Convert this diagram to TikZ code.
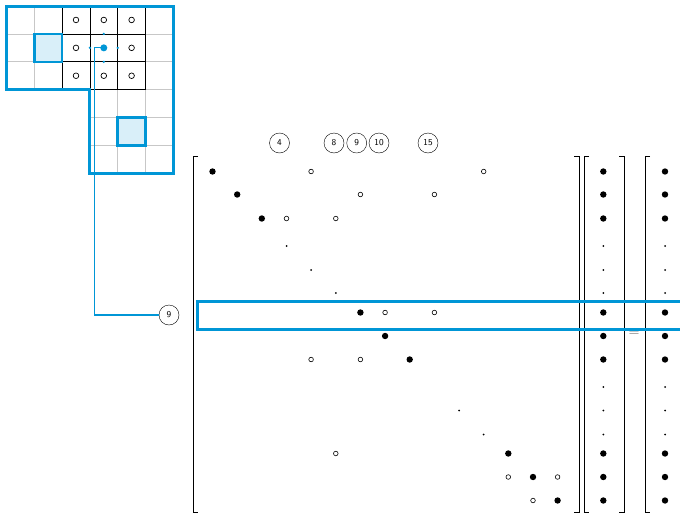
\documentclass[tikz,border=0pt]{standalone}
\usepackage[dvipsnames]{xcolor}
\definecolor{myblue}{RGB}{0,150,214}
\colorlet{mylightblue}{myblue!15}
\colorlet{mygray}{black!22}
\usepackage{tikz}
\tikzset{
  numlabel/.style={draw, circle, minimum size=20pt, inner sep=0pt, font=\sffamily\small},
  bracket/.style={line width=1pt},
}

\begin{document}
\begin{tikzpicture}[x=1pt, y=-1pt]
        \clip (0,0) rectangle (680,514);
        \useasboundingbox (0,0) rectangle (680,514);

        % the stencil grid
        \begin{scope}[shift={(6.5,6)}, x=27.8pt, y=-27.9pt]
        \fill[mylightblue] (1,1) rectangle (2,2) (4,4) rectangle (5,5);
        \draw[mygray, line width=0.8pt] (0,1) -- (6,1) (0,2) -- (6,2) (3,3) -- (6,3) (3,4) -- (6,4) (3,5) -- (6,5);
        \draw[mygray, line width=0.8pt] (1,0) -- (1,3) (2,0) -- (2,3) (3,0) -- (3,6) (4,0) -- (4,6) (5,0) -- (5,6);
        \draw[line width=0.8pt] (2,0) -- (2,3) (3,0) -- (3,3) (4,0) -- (4,3) (5,0) -- (5,3) (2,1) -- (5,1) (2,2) -- (5,2) (2,3) -- (5,3);
        \draw[myblue, line width=2.5pt] (1,1) rectangle (2,2) (4,4) rectangle (5,5);
        \draw[myblue, line width=3pt] (0,0) -- (6,0) -- (6,6) -- (3,6) -- (3,3) -- (0,3) -- cycle;
        \draw[line width=0.7pt] (2.5,0.5) circle [radius=2.8pt] (3.5,0.5) circle [radius=2.8pt] (4.5,0.5) circle [radius=2.8pt]
          (2.5,1.5) circle [radius=2.8pt] (4.5,1.5) circle [radius=2.8pt]
          (2.5,2.5) circle [radius=2.8pt] (3.5,2.5) circle [radius=2.8pt] (4.5,2.5) circle [radius=2.8pt];
        \coordinate (ctr) at (3.5,1.5);
        \fill[myblue] (ctr) circle [radius=3.5pt];
        \fill[myblue] (3.5,1) circle [radius=1.3pt] (3,1.5) circle [radius=1.3pt] (4,1.5) circle [radius=1.3pt] (3.5,2) circle [radius=1.3pt];
        \end{scope}

        \node[numlabel] (lab) at (169,315) {9};
        \draw[myblue, line width=1.2pt] (ctr) -- ++(-9.5,0) |- (lab);

        % column labels
        \node[numlabel] (h4) at (279.5,143) {4};
        \node[numlabel] (h8) at (334,143) {8};
        \node[numlabel] (h9) at (356.7,143) {9};
        \node[numlabel] (h10) at (379,143) {10};
        \node[numlabel] (h15) at (428,143) {15};

        % brackets
        \draw[bracket] (198,156) -- (193,156) -- (193,512) -- (198,512);
        \draw[bracket] (574,156) -- (579,156) -- (579,512) -- (574,512);
        \draw[bracket] (589,156) -- (584,156) -- (584,512) -- (589,512);
        \draw[bracket] (619,156) -- (624,156) -- (624,512) -- (619,512);
        \draw[bracket] (650,156) -- (645,156) -- (645,512) -- (650,512);
        \node[font=\Large, text=black!65] (eq) at (634,334) {=};

        % matrix entries
        \fill (212.5,171.5) circle [radius=3.2pt] (237.2,194.5) circle [radius=3.2pt] (261.8,218.5) circle [radius=3.2pt]
          (360.4,312.5) circle [radius=3.2pt] (385.1,336) circle [radius=3.2pt] (409.7,359.5) circle [radius=3.2pt]
          (508.3,453.5) circle [radius=3.2pt] (533.0,477) circle [radius=3.2pt] (557.6,500.5) circle [radius=3.2pt];
        \draw[line width=0.6pt] (311.1,171.5) circle [radius=2.3pt] (483.7,171.5) circle [radius=2.3pt]
          (360.4,194.5) circle [radius=2.3pt] (434.4,194.5) circle [radius=2.3pt]
          (286.5,218.5) circle [radius=2.3pt] (335.8,218.5) circle [radius=2.3pt]
          (385.1,312.5) circle [radius=2.3pt] (434.4,312.5) circle [radius=2.3pt]
          (311.1,359.5) circle [radius=2.3pt] (360.4,359.5) circle [radius=2.3pt]
          (335.8,453.5) circle [radius=2.3pt]
          (508.3,477) circle [radius=2.3pt] (557.6,477) circle [radius=2.3pt]
          (533.0,500.5) circle [radius=2.3pt];
        \fill (286.5,246) circle [radius=1pt] (311.1,270) circle [radius=1pt] (335.8,293) circle [radius=1pt]
          (459.0,410.5) circle [radius=1pt] (483.7,434.5) circle [radius=1pt];

        % vector entries
        \fill (603.3,171.5) circle [radius=3.2pt] (603.3,194.5) circle [radius=3.2pt] (603.3,218.5) circle [radius=3.2pt]
          (603.3,312.5) circle [radius=3.2pt] (603.3,336) circle [radius=3.2pt] (603.3,359.5) circle [radius=3.2pt]
          (603.3,453.5) circle [radius=3.2pt] (603.3,477) circle [radius=3.2pt] (603.3,500.5) circle [radius=3.2pt];
        \fill (603.3,246) circle [radius=1pt] (603.3,270) circle [radius=1pt] (603.3,293) circle [radius=1pt]
          (603.3,387) circle [radius=1pt] (603.3,410.5) circle [radius=1pt] (603.3,434.5) circle [radius=1pt];
        \fill (665,171.5) circle [radius=3.2pt] (665,194.5) circle [radius=3.2pt] (665,218.5) circle [radius=3.2pt]
          (665,312.5) circle [radius=3.2pt] (665,336) circle [radius=3.2pt] (665,359.5) circle [radius=3.2pt]
          (665,453.5) circle [radius=3.2pt] (665,477) circle [radius=3.2pt] (665,500.5) circle [radius=3.2pt];
        \fill (665,246) circle [radius=1pt] (665,270) circle [radius=1pt] (665,293) circle [radius=1pt]
          (665,387) circle [radius=1pt] (665,410.5) circle [radius=1pt] (665,434.5) circle [radius=1pt];

        % highlighted row
        \draw[myblue, line width=3pt] (690,301) -- (197,301) -- (197,329) -- (690,329);
      \end{tikzpicture}
\end{document}
